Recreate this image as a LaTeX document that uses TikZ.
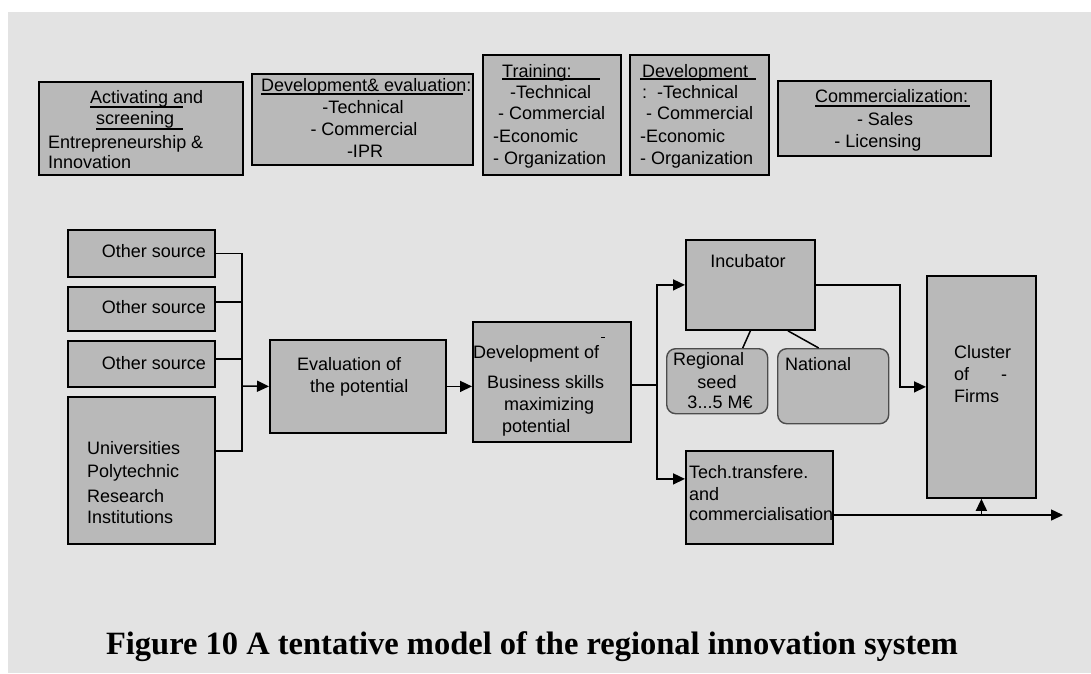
\documentclass[tikz,border=0pt]{standalone}
\usepackage{fontspec}
\setmainfont{Liberation Sans}
\newfontfamily\captionserif{Liberation Serif}
\usetikzlibrary{arrows.meta}
\definecolor{boxgray}{RGB}{185,185,185}
\definecolor{pagegray}{RGB}{227,227,227}

\begin{document}
\begin{tikzpicture}[x=1pt, y=-1pt,
  box/.style={draw=black, line width=1.8pt, fill=boxgray, inner sep=0pt, anchor=north west},
  seedbox/.style={draw=black!70, line width=1.4pt, fill=boxgray, rounded corners=9pt, inner sep=0pt, anchor=north west},
  txt/.style={inner sep=0pt, font=\fontsize{18}{22}\selectfont, text height=13pt, text depth=2pt},
  link/.style={line width=1.5pt},
  arr/.style={line width=1.5pt, -{Triangle[length=12pt,width=11pt]}},
  uline/.style={line width=1.5pt}]
\useasboundingbox (0,0) rectangle (1091,673);
\fill[white] (0,0) rectangle (1091,673);
\fill[pagegray] (8,12) rectangle (1091,673);

% top row
\node[box, minimum width=204pt, minimum height=93pt] (act) at (38,81) {};
\node[box, minimum width=221pt, minimum height=91pt] (deveval) at (251,73) {};
\node[box, minimum width=138pt, minimum height=120pt] (train) at (482,54) {};
\node[box, minimum width=139pt, minimum height=120pt] (devel) at (629,54) {};
\node[box, minimum width=213pt, minimum height=75pt] (comm) at (777,80) {};

\node[txt, anchor=west] (acttxt1) at (90,98) {Activating and};
\node[txt, anchor=west] (acttxt2) at (96,119) {screening};
\node[txt, anchor=west] (acttxt3) at (48,143) {Entrepreneurship \&};
\node[txt, anchor=west] (acttxt4) at (48,163) {Innovation};
\draw[uline] (90,107) -- (183,107);
\draw[uline] (96,129) -- (183,129);

\node[txt, anchor=west] (devevaltxt1) at (261,86) {Development\& evaluation:};
\node[txt] (devevaltxt2) at (363,108) {-Technical};
\node[txt] (devevaltxt3) at (364,130) {- Commercial};
\node[txt] (devevaltxt4) at (365,152) {-IPR};
\draw[uline] (261,94) -- (463,94);

\node[txt, anchor=west] (traintxt1) at (502,72) {Training:};
\node[txt, anchor=west] (traintxt2) at (510,93) {-Technical};
\node[txt, anchor=west] (traintxt3) at (498,114) {- Commercial};
\node[txt, anchor=west] (traintxt4) at (493,137) {-Economic};
\node[txt, anchor=west] (traintxt5) at (493,159) {- Organization};
\draw[uline] (502,79) -- (600,79);

\node[txt, anchor=west] (develtxt1) at (642,72) {Development};
\node[txt, anchor=west] (develtxt2) at (642,93) {:\ \ -Technical};
\node[txt, anchor=west] (develtxt3) at (646,114) {- Commercial};
\node[txt, anchor=west] (develtxt4) at (640,137) {-Economic};
\node[txt, anchor=west] (develtxt5) at (640,159) {- Organization};
\draw[uline] (640,79) -- (756,79);

\node[txt, anchor=west] (commtxt1) at (815,97) {Commercialization:};
\node[txt] (commtxt2) at (885,120) {- Sales};
\node[txt] (commtxt3) at (878,142) {- Licensing};
\draw[uline] (815,106) -- (970,106);

% sources
\node[box, minimum width=147pt, minimum height=47pt] (src1) at (67,229) {};
\node[box, minimum width=147pt, minimum height=44pt] (src2) at (67,286) {};
\node[box, minimum width=147pt, minimum height=46pt] (src3) at (67,340) {};
\node[box, minimum width=147pt, minimum height=147pt] (univ) at (67,396) {};
\node[txt, anchor=east] (src1txt) at (206,252) {Other source};
\node[txt, anchor=east] (src2txt) at (206,308) {Other source};
\node[txt, anchor=east] (src3txt) at (206,364) {Other source};
\node[txt, anchor=west] (univtxt1) at (87,449) {Universities};
\node[txt, anchor=west] (univtxt2) at (87,472) {Polytechnic};
\node[txt, anchor=west] (univtxt3) at (87,497) {Research};
\node[txt, anchor=west] (univtxt4) at (87,518) {Institutions};

% chain
\node[box, minimum width=176pt, minimum height=93pt] (eval) at (269,339) {};
\node[txt, anchor=west] (evaltxt1) at (297,365) {Evaluation of};
\node[txt, anchor=west] (evaltxt2) at (310,387) {the potential};

\node[box, minimum width=158pt, minimum height=120pt] (devbiz) at (472,321) {};
\node[txt, anchor=west] (devbiztxt1) at (473,353) {Development of};
\node[txt, anchor=west] (devbiztxt2) at (487,383) {Business skills};
\node[txt, anchor=west] (devbiztxt3) at (504,405) {maximizing};
\node[txt, anchor=west] (devbiztxt4) at (502,427) {potential};
\draw[line width=1pt] (601,337) -- (605,337);

\node[box, minimum width=129pt, minimum height=90pt] (incub) at (685,239) {};
\node[txt] (incubtxt) at (748,262) {Incubator};
\node[seedbox, minimum width=101pt, minimum height=65pt] (regional) at (666,348) {};
\node[txt, anchor=west] (regionaltxt1) at (673,360) {Regional};
\node[txt] (regionaltxt2) at (717,383) {seed};
\node[txt] (regionaltxt3) at (720,403) {3...5 M€};
\node[seedbox, minimum width=111pt, minimum height=75pt] (national) at (777,348) {};
\node[txt, anchor=west] (nationaltxt) at (785,365) {National};

\node[box, minimum width=147pt, minimum height=93pt] (tech) at (685,450) {};
\node[txt, anchor=west] (techtxt1) at (689,473) {Tech.transfere.};
\node[txt, anchor=west] (techtxt2) at (689,495) {and};
\node[txt, anchor=west] (techtxt3) at (689,515) {commercialisation};

\node[box, minimum width=109pt, minimum height=222pt] (cluster) at (926,275) {};
\node[txt, anchor=west] (clustertxt1) at (954,353) {Cluster};
\node[txt, anchor=west] (clustertxt2) at (954,375) {of};
\node[txt] (clustertxt3) at (1004,375) {-};
\node[txt, anchor=west] (clustertxt4) at (954,397) {Firms};

% connectors
\coordinate (bus) at (242,386);
\coordinate (univout) at ([yshift=19.5pt]univ.east);
\draw[link] (univout) -- (univout -| bus) -- (bus |- src1.east) -- (src1.east);
\draw[link] ([yshift=7pt]src2.east) -- ([yshift=7pt]src2.east -| bus);
\draw[link] ([yshift=5pt]src3.east) -- ([yshift=5pt]src3.east -| bus);
\draw[arr] (bus) -- (eval.west);
\draw[arr] (eval.east) -- (eval.east -| devbiz.west);

\coordinate (split) at (657,385);
\draw[link] (devbiz.east |- split) -- (split);
\draw[arr] (split) |- (incub.west);
\draw[arr] (split) |- ([yshift=18.5pt]tech.west);
\draw[link] (incub.south) -- ([xshift=25.5pt]regional.north);
\draw[link] ([xshift=37.5pt]incub.south) -- ([xshift=-14.5pt]national.north);
\draw[arr] (incub.east) -- ++(84,0) |- (cluster.west);

\coordinate (out) at (1063,515);
\draw[arr] (techtxt3.east) -- (out);
\draw[arr] (cluster.south |- out) -- (cluster.south);

% caption
\node[inner sep=0pt, anchor=base, font=\captionserif\bfseries\fontsize{32.5}{36}\selectfont] (caption) at (532,654)
  {Figure 10 A tentative model of the regional innovation system};
\end{tikzpicture}
\end{document}
